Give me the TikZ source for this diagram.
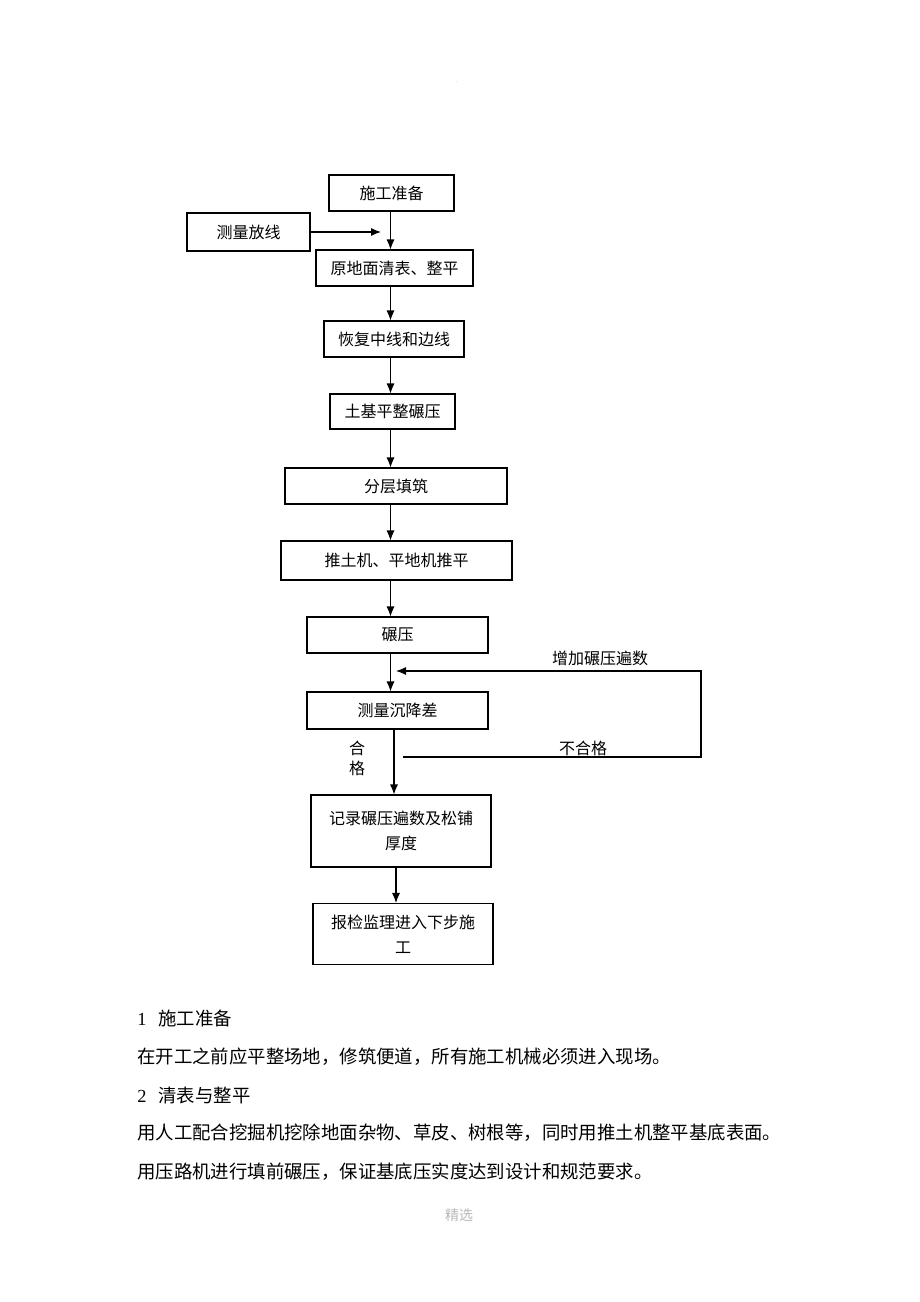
\documentclass[tikz,border=0pt]{standalone}
\usepackage{fontspec}
\setmainfont{Liberation Serif}
\newfontfamily\cjk{Noto Sans CJK SC}
\usepackage{xcolor}
\usetikzlibrary{arrows.meta}
\tikzset{>={Latex[length=7.5pt,width=6pt]}}

\begin{document}
\begin{tikzpicture}[x=0.75pt, y=-0.75pt]
        % sizes taken in px of the page, 1px = 0.75pt
        \tikzstyle{box}=[draw=black, line width=0.8pt, inner sep=0pt, align=center, font=\cjk\fontsize{12}{18.5}\selectfont]
        \tikzstyle{lbl}=[inner sep=0pt, align=center, font=\cjk\fontsize{12}{15}\selectfont]
        \tikzstyle{txt}=[anchor=west, inner sep=0pt, font=\cjk\fontsize{13.8}{16}\selectfont]
        \tikzstyle{every edge}=[draw, black, ->, line width=0.8pt]

        \fill[white] (0,0) rectangle (920,1302);
        \useasboundingbox (0,0) rectangle (920,1302);

        \node[inner sep=0pt, text=gray!60, font=\tiny] (dot) at (457,82) {.};

        \node[box, minimum width=93.75pt, minimum height=27pt] (prep) at (391.5,193) {施工准备};
        \node[box, minimum width=92.25pt, minimum height=28.5pt] (survey) at (248.5,232) {测量放线};
        \node[box, minimum width=117.75pt, minimum height=27pt] (clear) at (394.5,268) {原地面清表、整平};
        \node[box, minimum width=105pt, minimum height=27pt] (restore) at (394,339) {恢复中线和边线};
        \node[box, minimum width=93.75pt, minimum height=26.25pt] (base) at (392.5,411.5) {土基平整碾压};
        \node[box, minimum width=166.5pt, minimum height=27pt] (layer) at (396,486) {分层填筑};
        \node[box, minimum width=173.25pt, minimum height=29.25pt] (push) at (396.5,560.5) {推土机、平地机推平};
        \node[box, minimum width=135.75pt, minimum height=27pt] (roll) at (397.5,635) {碾压};
        \node[box, minimum width=135.75pt, minimum height=27.75pt] (settle) at (397.5,710.5) {测量沉降差};
        \node[box, minimum width=135pt, minimum height=54pt] (record) at (401,831) {记录碾压遍数及松铺\\厚度};
        \node[box, minimum width=135pt, minimum height=45.75pt] (report) at (403,934) {报检监理进入下步施\\工};

        \coordinate (axis) at (390.5,0);
        \coordinate (axisb) at (394,0);
        \coordinate (axisc) at (396,0);
        \coordinate (s1) at (381,232);
        \coordinate (fail) at (403,757);
        \coordinate (corner) at (701,671);
        \coordinate (ret) at (396,671);

        \draw (prep.south -| axis) edge (clear.north -| axis);
        \draw (survey) edge (s1);
        \draw (clear.south -| axis) edge (restore.north -| axis);
        \draw (restore.south -| axis) edge (base.north -| axis);
        \draw (base.south -| axis) edge (layer.north -| axis);
        \draw (layer.south -| axis) edge (push.north -| axis);
        \draw (push.south -| axis) edge (roll.north -| axis);
        \draw (roll.south -| axis) edge (settle.north -| axis);
        \draw (settle.south -| axisb) edge (record.north -| axisb);
        \draw (record.south -| axisc) edge (report.north -| axisc);

        % back to rolling when not passed
        \draw[->, line width=0.8pt] (fail) -| (corner) -- (ret);

        \node[lbl] (more) at (600,658) {增加碾压遍数};
        \node[lbl] (nopass) at (583,748) {不合格};
        \node[lbl, font=\cjk\fontsize{12}{15}\selectfont] (pass) at (357,758) {合\\格};

        % text below the chart
        \node[txt] (h1) at (137,1018) {\rmfamily 1\hspace{9pt}\cjk 施工准备};
        \node[txt] (p1) at (137,1057) {在开工之前应平整场地，修筑便道，所有施工机械必须进入现场。};
        \node[txt] (h2) at (137,1095) {\rmfamily 2\hspace{9pt}\cjk 清表与整平};
        \node[txt] (p2) at (137,1133) {用人工配合挖掘机挖除地面杂物、草皮、树根等，同时用推土机整平基底表面。};
        \node[txt] (p3) at (137,1172) {用压路机进行填前碾压，保证基底压实度达到设计和规范要求。};
        \node[inner sep=0pt, text=gray!55, font=\cjk\fontsize{10.5}{12}\selectfont] (foot) at (459,1215) {精选};
\end{tikzpicture}
\end{document}
